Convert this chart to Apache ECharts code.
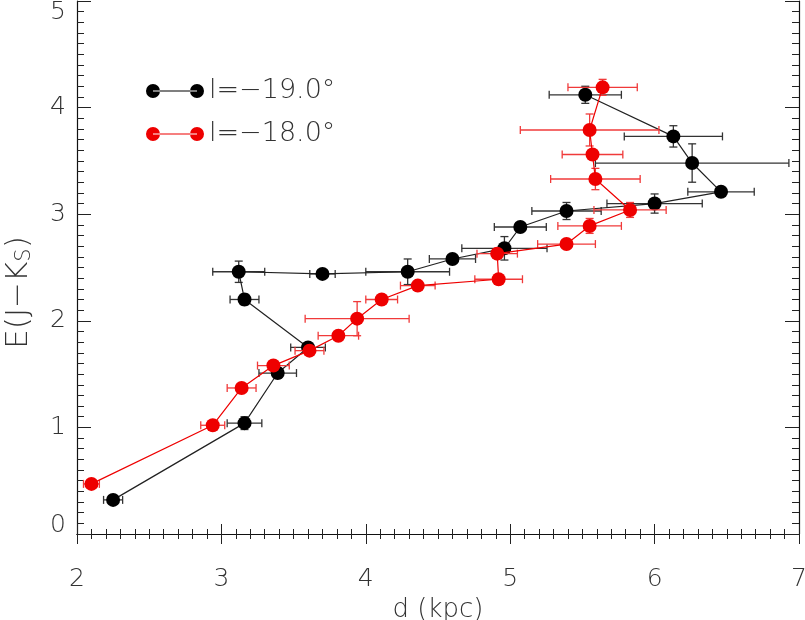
<!DOCTYPE html>
<html>
<head>
<meta charset="utf-8">
<script src="https://cdn.jsdelivr.net/npm/echarts@6/dist/echarts.min.js"></script>
<style>
html,body{margin:0;padding:0;background:#fff;}
#chart{width:805px;height:620px;}
</style>
</head>
<body>
<div id="chart"></div>
<script>
// Series l = -19.0 (black)
const blackD    = [2.25, 3.16, 3.39, 3.60, 3.16, 3.12, 3.70, 4.29, 4.60, 4.96, 5.07, 5.39, 6.00, 6.46, 6.26, 6.13, 5.52];
const blackE    = [0.32, 1.04, 1.51, 1.75, 2.20, 2.46, 2.44, 2.46, 2.58, 2.68, 2.88, 3.03, 3.10, 3.21, 3.48, 3.73, 4.12];
const blackDErr = [0.066, 0.12, 0.13, 0.12, 0.10, 0.18, 0.088, 0.29, 0.16, 0.295, 0.18, 0.24, 0.33, 0.23, 0.67, 0.34, 0.25];
const blackEErr = [0.03, 0.06, 0.05, 0.04, 0.05, 0.10, 0.03, 0.12, 0.04, 0.11, 0.03, 0.08, 0.09, 0.04, 0.18, 0.10, 0.08];

// Series l = -18.0 (red)
const redD    = [2.10, 2.94, 3.14, 3.36, 3.61, 3.81, 3.94, 4.11, 4.36, 4.92, 4.91, 5.39, 5.55, 5.83, 5.59, 5.57, 5.55, 5.64];
const redE    = [0.47, 1.02, 1.37, 1.58, 1.72, 1.86, 2.02, 2.20, 2.33, 2.39, 2.63, 2.72, 2.89, 3.04, 3.33, 3.56, 3.79, 4.19];
const redDErr = [0.055, 0.083, 0.10, 0.11, 0.10, 0.14, 0.36, 0.11, 0.12, 0.165, 0.14, 0.20, 0.22, 0.25, 0.31, 0.21, 0.48, 0.24];
const redEErr = [0.02, 0.02, 0.03, 0.03, 0.02, 0.03, 0.16, 0.03, 0.03, 0.04, 0.04, 0.04, 0.07, 0.07, 0.10, 0.03, 0.15, 0.075];

const seriesNames = ['l=\u221219.0\u00b0', 'l=\u221218.0\u00b0'];
const xTicks = [2, 3, 4, 5, 6, 7];
const yTicks = [0, 1, 2, 3, 4, 5];

const FONT = 'DejaVu Sans';
const pts = (xs, ys) => xs.map((x, i) => [x, ys[i]]);
const errs = (xs, ys, dx, dy) => xs.map((x, i) => [x, ys[i], dx[i], dy[i]]);

function errRender(color) {
  return function (params, api) {
    const x = api.value(0), y = api.value(1), dx = api.value(2), dy = api.value(3);
    const l = api.coord([x - dx, y]), r = api.coord([x + dx, y]);
    const t = api.coord([x, y + dy]), b = api.coord([x, y - dy]);
    const c = 4;
    const style = { stroke: color, lineWidth: 1.3 };
    const ln = (x1, y1, x2, y2) => ({ type: 'line', shape: { x1, y1, x2, y2 }, style });
    return {
      type: 'group',
      children: [
        ln(l[0], l[1], r[0], r[1]),
        ln(l[0], l[1] - c, l[0], l[1] + c),
        ln(r[0], r[1] - c, r[0], r[1] + c),
        ln(t[0], t[1], b[0], b[1]),
        ln(t[0] - c, t[1], t[0] + c, t[1]),
        ln(b[0] - c, b[1], b[0] + c, b[1])
      ]
    };
  };
}

const legendIcon = 'path://M0,7a7,7 0 1,0 14,0a7,7 0 1,0 -14,0Z M44,7a7,7 0 1,0 14,0a7,7 0 1,0 -14,0Z M7,6.4H51V7.6H7Z';

const axisCommon = {
  type: 'value',
  axisLine: { show: true, lineStyle: { color: '#111', width: 1.2 } },
  splitLine: { show: false },
};

const labelBase = { fontFamily: FONT, fontWeight: 200, fontSize: 25, color: '#333' };

const chart = echarts.init(document.getElementById('chart'), null, { renderer: 'canvas' });
chart.setOption({
  backgroundColor: '#fff',
  animation: false,
  grid: { left: 77, right: 6, top: 1, bottom: 86, containLabel: false, outerBoundsMode: 'none' },
  legend: {
    orient: 'vertical',
    left: 141,
    top: 71,
    itemWidth: 58,
    itemHeight: 14,
    itemGap: 13,
    selectedMode: false,
    data: [
      { name: seriesNames[0], icon: legendIcon, itemStyle: { color: '#000' } },
      { name: seriesNames[1], icon: legendIcon, itemStyle: { color: '#ee0000' } }
    ],
    textStyle: { fontFamily: FONT, fontWeight: 200, fontSize: 27, color: '#333', lineHeight: 30 }
  },
  xAxis: [
    Object.assign({}, axisCommon, {
      position: 'bottom', min: xTicks[0], max: xTicks[xTicks.length - 1], interval: 1,
      axisTick: { inside: true, length: 10, lineStyle: { color: '#222' } },
      minorTick: { show: true, splitNumber: 10, length: 5, lineStyle: { color: '#222' } },
      axisLabel: Object.assign({ margin: 33 }, labelBase),
      name: 'd (kpc)', nameLocation: 'middle', nameGap: 58,
      nameTextStyle: { fontFamily: FONT, fontWeight: 200, fontSize: 26, color: '#333' }
    }),
    Object.assign({}, axisCommon, {
      position: 'top', min: xTicks[0], max: xTicks[xTicks.length - 1], interval: 1,
      axisTick: { inside: true, length: 10, lineStyle: { color: '#222' } },
      minorTick: { show: true, splitNumber: 10, length: 5, lineStyle: { color: '#222' } },
      axisLabel: { show: false }
    })
  ],
  yAxis: [
    Object.assign({}, axisCommon, {
      position: 'left', min: yTicks[0], max: yTicks[yTicks.length - 1], interval: 1,
      axisTick: { inside: true, length: 14, lineStyle: { color: '#222' } },
      minorTick: { show: true, splitNumber: 10, length: 7, lineStyle: { color: '#222' } },
      axisLabel: Object.assign({
        margin: 11,
        formatter: function (v) {
          if (v === yTicks[0]) return '{lo|' + v + '}';
          if (v === yTicks[yTicks.length - 1]) return '{hi|' + v + '}';
          return String(v);
        },
        rich: {
          lo: Object.assign({ padding: [0, 0, 18, 0] }, labelBase),
          hi: Object.assign({ padding: [22, 0, 0, 0] }, labelBase)
        }
      }, labelBase),
      name: 'E(J\u2212K{s|S})', nameLocation: 'middle', nameGap: 42,
      nameTextStyle: {
        fontFamily: FONT, fontWeight: 200, fontSize: 31, color: '#333',
        padding: [0, 50, 0, 0],
        rich: { s: { fontFamily: FONT, fontWeight: 200, fontSize: 21, color: '#333', padding: [12, 0, 0, 0] } }
      }
    }),
    Object.assign({}, axisCommon, {
      position: 'right', min: yTicks[0], max: yTicks[yTicks.length - 1], interval: 1,
      axisTick: { inside: true, length: 14, lineStyle: { color: '#222' } },
      minorTick: { show: true, splitNumber: 10, length: 7, lineStyle: { color: '#222' } },
      axisLabel: { show: false }
    })
  ],
  series: [
    {
      type: 'custom', name: 'errB', xAxisIndex: 0, yAxisIndex: 0,
      renderItem: errRender('#333'), encode: { x: 0, y: 1 },
      data: errs(blackD, blackE, blackDErr, blackEErr), z: 2, silent: true
    },
    {
      type: 'line', name: seriesNames[0], xAxisIndex: 0, yAxisIndex: 0,
      data: pts(blackD, blackE), symbol: 'circle', symbolSize: 14,
      itemStyle: { color: '#000' }, lineStyle: { color: '#222', width: 1.2 }, z: 3
    },
    {
      type: 'custom', name: 'errR', xAxisIndex: 0, yAxisIndex: 0,
      renderItem: errRender('#f03a3a'), encode: { x: 0, y: 1 },
      data: errs(redD, redE, redDErr, redEErr), z: 4, silent: true
    },
    {
      type: 'line', name: seriesNames[1], xAxisIndex: 0, yAxisIndex: 0,
      data: pts(redD, redE), symbol: 'circle', symbolSize: 14,
      itemStyle: { color: '#ee0000' }, lineStyle: { color: '#ee0000', width: 1.2 }, z: 5
    }
  ]
});
</script>
</body>
</html>
